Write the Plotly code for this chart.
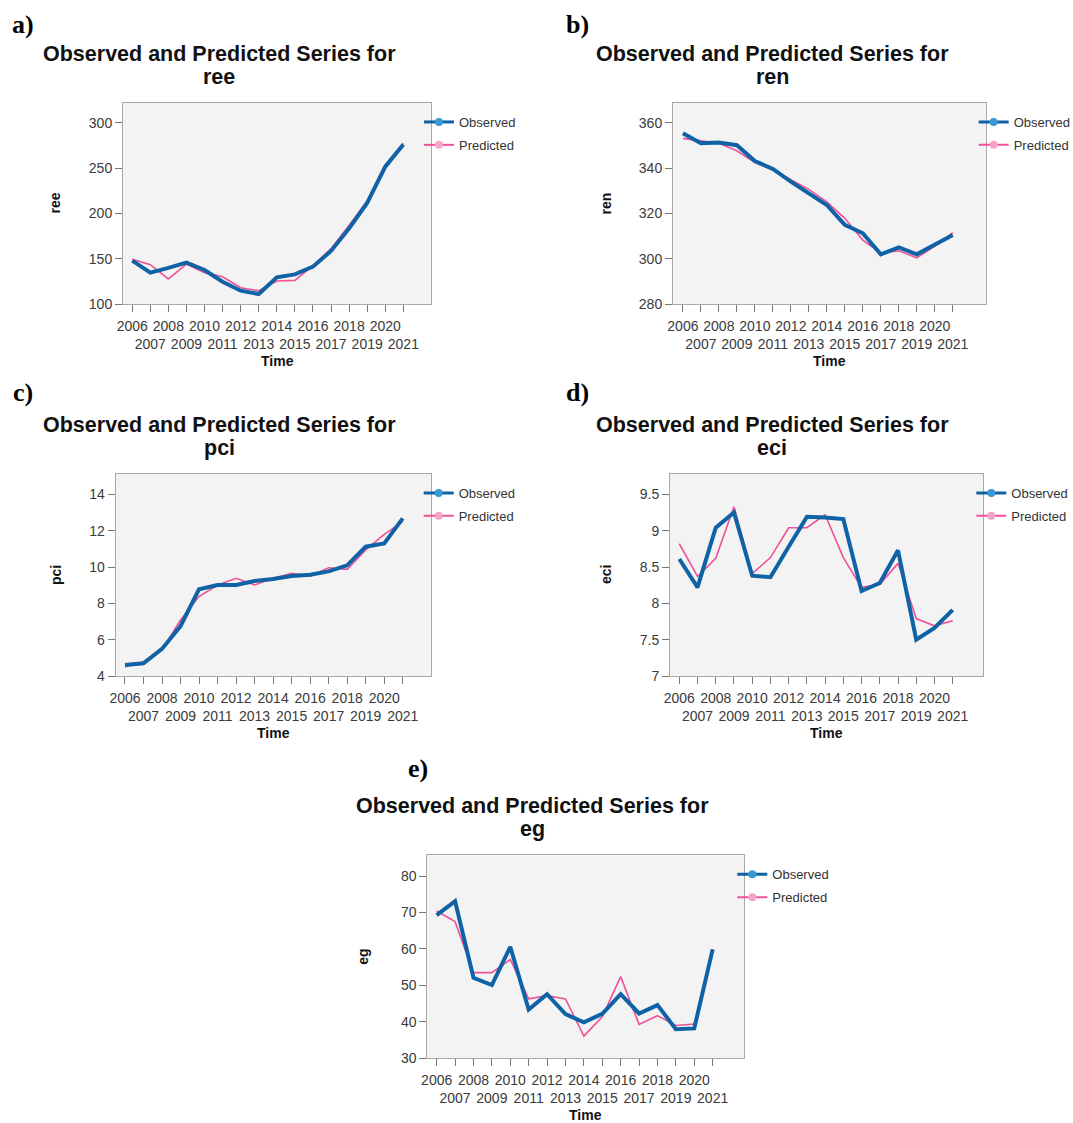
import plotly.graph_objects as go

# page window is 1073x1123; the page body margin is removed so the figure fills it exactly
W, H = 1073, 1123

years = list(range(2006, 2022))
year_labels = [str(y) if y % 2 == 0 else "<br>" + str(y) for y in years]

ree_observed = [147.8, 134.6, 139.8, 145.6, 137.5, 124.6, 114.7, 111.0, 129.4, 132.7, 141.2, 158.5, 183.4, 211.5, 251.5, 276.0]
ree_predicted = [149.3, 143.4, 127.6, 144.0, 134.6, 130.1, 118.0, 114.7, 125.4, 126.1, 142.3, 161.0, 187.0, 213.6, 253.3, 277.2]

ren_observed = [355.3, 350.9, 351.3, 350.1, 343.1, 339.6, 334.0, 328.8, 323.7, 314.9, 311.2, 301.9, 305.0, 301.9, 306.3, 310.4]
ren_predicted = [353.1, 351.9, 350.9, 347.6, 342.4, 339.1, 335.0, 330.6, 325.1, 317.8, 308.2, 302.4, 303.5, 300.4, 305.6, 311.5]

pci_observed = [4.61, 4.70, 5.49, 6.75, 8.77, 9.01, 9.01, 9.23, 9.34, 9.50, 9.58, 9.76, 10.09, 11.12, 11.30, 12.68]
pci_predicted = [4.51, 4.79, 5.43, 7.08, 8.37, 9.01, 9.38, 9.01, 9.38, 9.65, 9.50, 9.96, 9.87, 10.94, 11.80, 12.50]

eci_observed = [8.61, 8.22, 9.04, 9.25, 8.38, 8.36, 8.78, 9.19, 9.18, 9.16, 8.17, 8.28, 8.73, 7.50, 7.66, 7.91]
eci_predicted = [8.82, 8.37, 8.62, 9.33, 8.41, 8.63, 9.04, 9.04, 9.22, 8.63, 8.22, 8.26, 8.55, 7.79, 7.69, 7.76]

eg_observed = [69.3, 73.1, 52.1, 50.1, 60.6, 43.4, 47.6, 42.1, 39.9, 42.2, 47.6, 42.3, 44.6, 38.0, 38.2, 59.9]
eg_predicted = [70.4, 67.5, 53.5, 53.5, 57.1, 46.3, 47.2, 46.3, 36.1, 41.4, 52.4, 39.3, 41.7, 39.0, 39.4, 59.9]

ree_ticks = [100, 150, 200, 250, 300]
ren_ticks = [280, 300, 320, 340, 360]
pci_ticks = [4, 6, 8, 10, 12, 14]
eci_ticks = [7, 7.5, 8, 8.5, 9, 9.5]
eci_tick_labels = ["7", "7.5", "8", "8.5", "9", "9.5"]
eg_ticks = [30, 40, 50, 60, 70, 80]

series_names = ["ree", "ren", "pci", "eci", "eg"]
panel_labels = ["a)", "b)", "c)", "d)", "e)"]
legend_names = ["Observed", "Predicted"]

OBS_COLOR = "#0f62a6"
OBS_MARK = "#3a98d4"
PRED_COLOR = "#ef5199"
PRED_MARK = "#f6a3c9"
FONT = "Liberation Sans"


def fx(x):
    return x / W


def fy(y):
    return 1 - y / H


# layout (page-pixel geometry of each panel)
panels = [
    dict(obs=ree_observed, pred=ree_predicted, ticks=ree_ticks, ticklab=[str(t) for t in ree_ticks],
         box=(123, 103, 431, 304), yr=[100, 321.7], xr=[2005.49, 2022.53],
         lab=(22.5, 24), title_x=219, ytitle_x=55),
    dict(obs=ren_observed, pred=ren_predicted, ticks=ren_ticks, ticklab=[str(t) for t in ren_ticks],
         box=(673, 103, 985.7, 304), yr=[280, 368.7], xr=[2005.45, 2022.83],
         lab=(577, 24), title_x=772, ytitle_x=606),
    dict(obs=pci_observed, pred=pci_predicted, ticks=pci_ticks, ticklab=[str(t) for t in pci_ticks],
         box=(115.7, 474, 430.7, 676), yr=[4, 15.12], xr=[2005.5, 2022.51],
         lab=(22.5, 393), title_x=219, ytitle_x=56),
    dict(obs=eci_observed, pred=eci_predicted, ticks=eci_ticks, ticklab=eci_tick_labels,
         box=(670, 474, 983.3, 676), yr=[7, 9.78], xr=[2005.49, 2022.68],
         lab=(577, 393), title_x=772, ytitle_x=606),
    dict(obs=eg_observed, pred=eg_predicted, ticks=eg_ticks, ticklab=[str(t) for t in eg_ticks],
         box=(427.3, 855.3, 744.3, 1058.3), yr=[30, 85.7], xr=[2005.49, 2022.72],
         lab=(417.5, 768), title_x=532.5, ytitle_x=363),
]

fig = go.Figure()
annotations = []
layout = {}

for i, (p, name, plab) in enumerate(zip(panels, series_names, panel_labels)):
    n = i + 1
    sfx = "" if n == 1 else str(n)
    xa, ya = "x" + sfx, "y" + sfx
    lg = "legend" + sfx
    x0, y0, x1, y1 = p["box"]

    fig.add_trace(go.Scatter(x=years, y=p["pred"], mode="lines", xaxis=xa, yaxis=ya,
                             line=dict(color=PRED_COLOR, width=1.6), showlegend=False))
    fig.add_trace(go.Scatter(x=years, y=p["obs"], mode="lines", xaxis=xa, yaxis=ya,
                             line=dict(color=OBS_COLOR, width=4), showlegend=False))
    # legend entries
    fig.add_trace(go.Scatter(x=[None], y=[None], mode="lines+markers", xaxis=xa, yaxis=ya,
                             name=legend_names[0], legend=lg, legendgroup=f"o{n}",
                             line=dict(color=OBS_COLOR, width=3),
                             marker=dict(color=OBS_MARK, size=8)))
    fig.add_trace(go.Scatter(x=[None], y=[None], mode="lines+markers", xaxis=xa, yaxis=ya,
                             name=legend_names[1], legend=lg, legendgroup=f"p{n}",
                             line=dict(color=PRED_COLOR, width=2),
                             marker=dict(color=PRED_MARK, size=8)))

    layout["xaxis" + sfx] = dict(
        domain=[fx(x0), fx(x1)], anchor=ya, range=p["xr"],
        tickmode="array", tickvals=years, ticktext=year_labels, tickangle=0,
        ticks="outside", ticklen=7, tickcolor="#777", tickwidth=1, ticklabelstandoff=2,
        showline=True, mirror=True, linecolor="#a8a8a8", linewidth=1,
        showgrid=False, zeroline=False,
        tickfont=dict(family=FONT, size=14, color="#3a3a3a"),
    )
    layout["yaxis" + sfx] = dict(
        domain=[fy(y1), fy(y0)], anchor=xa, range=p["yr"],
        tickmode="array", tickvals=p["ticks"], ticktext=p["ticklab"],
        ticks="outside", ticklen=7, tickcolor="#777", tickwidth=1,
        showline=True, mirror=True, linecolor="#a8a8a8", linewidth=1,
        showgrid=False, zeroline=False,
        tickfont=dict(family=FONT, size=14, color="#3a3a3a"),
    )
    layout[lg] = dict(
        x=fx(x1 - 12), y=fy(y0 + 4), xanchor="left", yanchor="top",
        bgcolor="rgba(0,0,0,0)", borderwidth=0,
        font=dict(family=FONT, size=13, color="#333"),
        itemwidth=30, traceorder="grouped", tracegroupgap=3,
    )

    # panel label
    annotations.append(dict(text="<b>" + plab + "</b>", x=fx(p["lab"][0]), y=fy(p["lab"][1]),
                            xref="paper", yref="paper", showarrow=False, xanchor="center", yanchor="middle",
                            font=dict(family="Liberation Serif", size=26, color="black")))
    # title lines
    annotations.append(dict(text="<b>Observed and Predicted Series for</b>", x=fx(p["title_x"]),
                            y=fy(y0 - 49), xref="paper", yref="paper", showarrow=False,
                            xanchor="center", yanchor="middle",
                            font=dict(family=FONT, size=21.5, color="#111")))
    annotations.append(dict(text="<b>" + name + "</b>", x=fx(p["title_x"]),
                            y=fy(y0 - 26), xref="paper", yref="paper", showarrow=False,
                            xanchor="center", yanchor="middle",
                            font=dict(family=FONT, size=21.5, color="#111")))
    # axis titles
    annotations.append(dict(text="<b>" + name + "</b>", x=fx(p["ytitle_x"]), y=fy((y0 + y1) / 2),
                            xref="paper", yref="paper", showarrow=False, textangle=-90,
                            xanchor="center", yanchor="middle",
                            font=dict(family=FONT, size=14, color="#111")))
    annotations.append(dict(text="<b>Time</b>", x=fx((x0 + x1) / 2), y=fy(y1 + 57),
                            xref="paper", yref="paper", showarrow=False,
                            xanchor="center", yanchor="middle",
                            font=dict(family=FONT, size=14, color="#111")))

fig.update_layout(
    width=W, height=H, autosize=False,
    margin=dict(l=0, r=0, t=0, b=0, autoexpand=False),
    paper_bgcolor="white", plot_bgcolor="#f3f3f3",
    annotations=annotations,
    **layout,
)

fig.write_html("out.html", config={"displayModeBar": False},
               post_script="document.body.style.margin='0';")
